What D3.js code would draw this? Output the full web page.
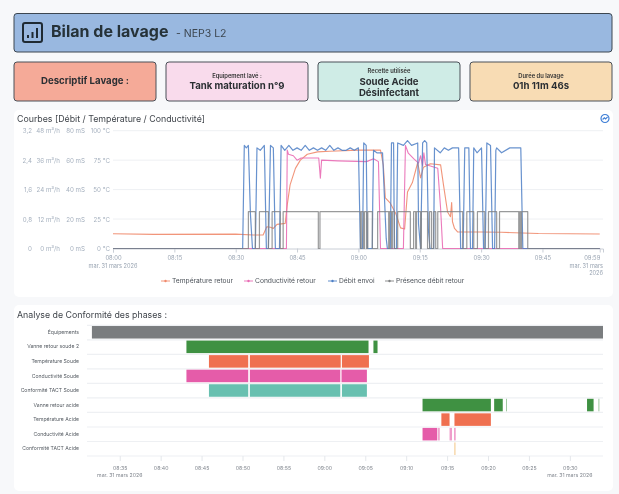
<!DOCTYPE html>
<html>
<head>
<meta charset="utf-8">
<script src="https://cdn.jsdelivr.net/npm/d3@7"></script>
<style>
  html, body { margin: 0; padding: 0; background: #f7f8fa; }
  svg { display: block; font-family: Inter, "Noto Sans", sans-serif; filter: blur(0.3px); }
  .tick text { font-family: Inter, "Noto Sans", sans-serif; }
</style>
</head>
<body>
<script>
const width = 619, height = 494;

// header
const titleText = 'Bilan de lavage';
const subtitleText = '- NEP3 L2';
const cardLabels = ['', 'Equipement lavé :', 'Recette utilisée', 'Durée du lavage'];
const cardValues = [['Descriptif Lavage :'], ['Tank maturation n°9'], ['Soude Acide', 'Désinfectant'], ['01h 11m 46s']];
const cardColors = ['#f5aa98', '#f9dbec', '#cfece6', '#f8dcb4'];

// top chart: times are minutes after 08:00
const flowTicks = [0, 12, 24, 36, 48];
const pressureTicks = [0, 0.8, 1.6, 2.4, 3.2];
const condTicks = [0, 20, 40, 60, 80];
const tempTicks = [0, 25, 50, 75, 100];
const timeTicks = [0, 15, 30, 45, 60, 75, 90, 105, 119];

const tempT = [0, 10, 30, 34.3, 36.7, 37.6, 38.5, 39.2, 40.1, 42.1, 42.6, 43.3, 44.6, 45.8, 47.5, 50, 53, 60, 65.4, 66.1, 66.6, 67.8, 69.1, 70.3, 71.3, 72, 73.2, 74.5, 75.2, 75.9, 77.6, 80.1, 80.8, 81.8, 82.5, 82.8, 83, 83.5, 84.3, 90, 95, 104, 119];
const tempV = [12.5, 12, 12.2, 11.5, 11.5, 18.5, 18, 17, 20.5, 21.3, 37, 54, 68, 75, 80, 82, 82.6, 83.5, 83.5, 71, 43, 38.5, 30, 17.5, 16.5, 48, 56, 73, 60, 69, 72, 71, 54, 31, 27, 39, 22.7, 17, 14, 14, 13.8, 12.7, 12.3];

const condT = [0, 42.4, 42.6, 42.9, 44.1, 45, 46, 50.3, 50.7, 51, 55, 62, 63.7, 64.9, 65.4, 71, 71.5, 72.2, 73.5, 74.7, 75.2, 75.7, 76, 76.4, 78.4, 79.4, 80.1, 80.6, 119];
const condV = [0, 0, 66.8, 64, 63, 60, 61.5, 61.5, 47.8, 60, 59.5, 59, 61, 59, 0, 0, 70, 64.7, 61, 58, 63, 56, 65, 57, 55.4, 54.5, 27, 0, 0];

const flowT = [0, 31.7, 32.1, 32.6, 33.1, 33.6, 34.1, 34.8, 35.2, 36, 37, 37.5, 38, 38.5, 39.2, 39.7, 40.7, 41.1, 42, 43, 44, 45, 46, 47, 48, 49, 50, 51, 52, 53, 54, 55, 56, 57, 58, 59, 60, 60.5, 61, 61.3, 61.9, 62.2, 63.4, 63.5, 63.7, 64.5, 65.9, 66.8, 67.1, 67.8, 68.1, 68.6, 68.8, 69.3, 69.6, 71, 72, 73, 74.5, 74.7, 75.2, 75.7, 76.2, 76.7, 77.1, 77.5, 78.4, 78.6, 80, 81, 82, 83, 84.5, 85, 85.6, 86, 87, 87.4, 87.9, 88.2, 89, 90.1, 90.6, 91, 91.4, 92.3, 92.8, 93.3, 93.6, 93.8, 95, 97, 99.7, 100.2, 119];
const flowV = [0, 0, 42, 41, 42, 14, 0, 0, 41, 40, 42, 0, 0, 42, 41, 0, 0, 42, 40, 42, 40, 41, 40, 42, 40, 41, 40, 41, 40, 42, 40, 41, 40, 40, 41, 40, 41, 0, 0, 43, 42, 0, 0, 18, 40, 39, 39, 4, 0, 0, 43, 43, 0, 0, 43, 42, 44, 42, 43, 10, 0, 43, 44, 43, 8, 0, 0, 41, 39, 41, 40, 41, 41, 0, 0, 41, 41, 0, 0, 41, 39, 41, 0, 0, 43, 42, 0, 0, 40, 41, 39, 41, 41, 0, 0];

const presenceOn = [33.1, 35.8, 38.9, 41.6, 50.6, 60.7, 61.5, 62.3, 64.7, 67.6, 68.3, 69.6, 73.5, 74.2, 75.4, 77.4, 78.4, 79.4, 86.5, 89.1, 91.8, 94.5, 99.4, 99.9];
const presenceOff = [34.8, 38, 40.9, 50.2, 60.5, 61.2, 62, 63.4, 67.4, 68.1, 68.8, 72.7, 74, 75.2, 76.9, 77.9, 78.9, 85.5, 88.2, 90.9, 93.8, 99.2, 99.7, 101.4];

const legendNames = ['Température retour', 'Conductivité retour', 'Débit envoi', 'Présence débit retour'];
const lineColors = ['#f08a6c', '#e96bb4', '#4d7fc6', '#7f8182'];

// phases chart: times are minutes after 08:00
const phaseNames = ['Équipements', 'Vanne retour soude 2', 'Température Soude', 'Conductivité Soude', 'Conformité TACT Soude', 'Vanne retour acide', 'Température Acide', 'Conductivité Acide', 'Conformité TACT Acide'];
const phaseColors = ['#7a7d7f', '#3f9142', '#ef7050', '#e55ca9', '#68c0b0', '#3f9142', '#ef7050', '#e55ca9', '#f8dcb4'];
const phaseStart = [[31.6], [43.15, 66], [45.9, 50.9, 62.15], [43.15, 50.9, 62.1], [45.9, 50.9, 62.15], [72, 80.76, 82.2, 92.1, 93.5], [74.3, 75.9], [72, 73.9, 75.3, 75.85], [75.85]];
const phaseEnd = [[94.05], [65.4, 66.5], [50.7, 62, 65.45], [50.7, 61.95, 65.2], [50.7, 61.95, 65.2], [80.36, 81.8, 82.3, 92.9, 93.6], [75.3, 80.36], [73.8, 74.1, 75.6, 76.05], [76.05]];
const phaseTicks = [35, 40, 45, 50, 55, 60, 65, 70, 75, 80, 85, 90];

const at = m => new Date(2026, 2, 31, 8, 0, m * 60);
const hm = d3.timeFormat('%H:%M');
const dateLabel = 'mar. 31 mars 2026';

const svg = d3.select('body').append('svg').attr('width', width).attr('height', height);

function panel(x, y, w, h, fill, stroke, r) {
    svg.append('rect').attr('x', x).attr('y', y).attr('width', w).attr('height', h)
        .attr('rx', r).attr('fill', fill).attr('stroke', stroke).attr('stroke-width', stroke === 'none' ? 0 : 1);
}

function renderHeader() {
    panel(14, 13.5, 598, 38.5, '#99b8e0', '#3c4650', 3);

    const icon = svg.append('g').attr('transform', 'translate(23,23)')
        .attr('fill', 'none').attr('stroke', '#1f2a33').attr('stroke-width', 2);
    icon.append('rect').attr('width', 19).attr('height', 19).attr('rx', 2);
    [[5, 12, 15], [9.5, 9, 15], [14, 5, 15]].forEach(b => {
        icon.append('line').attr('x1', b[0]).attr('x2', b[0]).attr('y1', b[1]).attr('y2', b[2]);
    });

    svg.append('text').attr('x', 51).attr('y', 37).attr('font-size', 16).attr('font-weight', 700)
        .attr('fill', '#263238').text(titleText);
    svg.append('text').attr('x', 176).attr('y', 37).attr('font-size', 10.5).attr('fill', '#3c4650').text(subtitleText);

    cardValues.forEach((lines, i) => {
        const x = 14 + i * 152;
        panel(x, 62, 142, 39, cardColors[i], '#4a5058', 3);
        const cx = x + 71;
        const y0 = i === 0 ? 84 : 89;
        if (cardLabels[i]) {
            svg.append('text').attr('x', cx).attr('y', lines.length === 2 ? 72.5 : 77.5).attr('text-anchor', 'middle')
                .attr('font-size', 5.8).attr('font-weight', 600).attr('fill', '#333').text(cardLabels[i]);
        }
        lines.forEach((s, j) => {
            svg.append('text').attr('x', cx).attr('y', (lines.length === 2 ? 84.5 : y0) + j * 11)
                .attr('text-anchor', 'middle').attr('font-size', 9.6).attr('font-weight', 700)
                .attr('fill', '#2b2f33').text(s);
        });
    });
}

function renderCurves() {
    panel(14, 110, 599, 187, '#ffffff', 'none', 5);
    svg.append('text').attr('x', 17).attr('y', 122).attr('font-size', 8.8).attr('fill', '#3f444a')
        .text('Courbes [Débit / Température / Conductivité]');

    // refresh badge
    const badge = svg.append('g').attr('transform', 'translate(605,118.5)').attr('fill', 'none').attr('stroke', '#3f7fd6').attr('stroke-width', 1.2);
    badge.append('circle').attr('r', 4);
    badge.append('path').attr('d', d3.line()([[-2.4, 1], [-0.6, -0.6], [0.6, 0.4], [2.6, -1.6]]));

    const x = d3.scaleTime().domain([at(0), at(119.8)]).range([113, 603]);
    const yTemp = d3.scaleLinear().domain([0, 100]).range([248.5, 130.7]);
    const yFlow = d3.scaleLinear().domain([0, 48]).range([248.5, 130.7]);
    const yCond = d3.scaleLinear().domain([0, 80]).range([248.5, 130.7]);
    const yPres = d3.scaleLinear().domain([0, 3.2]).range([248.5, 130.7]);

    const leftAxis = (scale, ticks, fmt, xPos) => {
        const g = svg.append('g').attr('transform', `translate(${xPos},0)`)
            .call(d3.axisLeft(scale).tickValues(ticks).tickSize(0).tickPadding(0).tickFormat(fmt));
        g.select('.domain').remove();
        g.selectAll('text').attr('font-size', 6.2).attr('fill', '#a6b1bf');
    };
    leftAxis(yPres, pressureTicks, d => String(d).replace('.', ','), 32);
    leftAxis(yFlow, flowTicks, d => d + ' m³/h', 60);
    leftAxis(yCond, condTicks, d => d + ' mS', 85);
    leftAxis(yTemp, tempTicks, d => d + ' °C', 110);

    svg.append('g').selectAll('line').data(tempTicks.slice(1)).join('line')
        .attr('x1', 113).attr('x2', 603).attr('y1', yTemp).attr('y2', yTemp)
        .attr('stroke', '#eef0f3').attr('stroke-width', 1);

    const xAxis = svg.append('g').attr('transform', 'translate(0,248.5)')
        .call(d3.axisBottom(x).tickValues(timeTicks.map(at)).tickSize(4).tickPadding(3).tickFormat(hm));
    xAxis.select('.domain').attr('stroke', '#c9ced6');
    xAxis.selectAll('line').attr('stroke', '#c9ced6');
    xAxis.selectAll('text').attr('font-size', 5.8).attr('fill', '#98a3b1');
    xAxis.selectAll('.tick:last-of-type text').attr('text-anchor', 'end');

    svg.append('text').attr('x', 113).attr('y', 268).attr('text-anchor', 'middle').attr('font-size', 5.6).attr('fill', '#98a3b1').text(dateLabel);
    svg.append('text').attr('x', 603).attr('y', 268).attr('text-anchor', 'end').attr('font-size', 5.6).attr('fill', '#98a3b1').text('mar. 31 mars');
    svg.append('text').attr('x', 603).attr('y', 274.5).attr('text-anchor', 'end').attr('font-size', 5.6).attr('fill', '#98a3b1').text('2026');

    const draw = (pts, y, color, w, op) => {
        svg.append('path').attr('d', d3.line().x(p => x(at(p[0]))).y(p => y(p[1]))(pts))
            .attr('fill', 'none').attr('stroke', color).attr('stroke-width', w).attr('opacity', op)
            .attr('stroke-linejoin', 'round');
    };

    const presencePts = [[0, 0]];
    presenceOn.forEach((t, i) => {
        presencePts.push([t, 0], [t, 1], [presenceOff[i], 1], [presenceOff[i], 0]);
    });
    presencePts.push([119, 0]);

    draw(tempT.map((t, i) => [t, tempV[i]]), yTemp, lineColors[0], 1.1, 0.9);
    draw(condT.map((t, i) => [t, condV[i]]), yCond, lineColors[1], 1.1, 0.9);
    draw(flowT.map((t, i) => [t, flowV[i]]), yFlow, lineColors[2], 1.2, 0.85);
    draw(presencePts, yPres, lineColors[3], 1.2, 0.8);

    // legend
    const legendX = [161, 244, 328, 385];
    legendNames.forEach((name, i) => {
        const g = svg.append('g').attr('transform', `translate(${legendX[i]},281)`);
        g.append('line').attr('x1', 0).attr('x2', 9).attr('stroke', lineColors[i]).attr('stroke-width', 1.6).attr('opacity', 0.55);
        g.append('circle').attr('cx', 4.5).attr('r', 1.2).attr('fill', lineColors[i]);
        g.append('text').attr('x', 11).attr('y', 2.4).attr('font-size', 6.7).attr('fill', '#4b5158').text(name);
    });
}

function renderPhases() {
    panel(14, 305, 599, 186, '#ffffff', 'none', 5);
    svg.append('text').attr('x', 17).attr('y', 317.5).attr('font-size', 8.8).attr('fill', '#3f444a')
        .text('Analyse de Conformité des phases :');

    const x = d3.scaleTime().domain([at(31), at(94.05)]).range([87, 603]);
    const y = d3.scaleBand().domain(phaseNames).range([325, 456]).paddingInner(0.14).paddingOuter(0.07);

    svg.append('g').selectAll('line').data(d3.range(phaseNames.length + 1)).join('line')
        .attr('x1', 87).attr('x2', 603)
        .attr('y1', i => 325.4 + i * (456 - 325.4) / phaseNames.length)
        .attr('y2', i => 325.4 + i * (456 - 325.4) / phaseNames.length)
        .attr('stroke', '#eef0f3').attr('stroke-width', 1.2);

    phaseNames.forEach((name, i) => {
        const segs = phaseStart[i].map((s, j) => [s, phaseEnd[i][j]]);
        svg.append('g').selectAll('rect').data(segs).join('rect')
            .attr('x', d => x(at(d[0])))
            .attr('width', d => x(at(d[1])) - x(at(d[0])))
            .attr('y', y(name))
            .attr('height', y.bandwidth())
            .attr('fill', phaseColors[i])
            .attr('opacity', d => (d[1] - d[0] < 0.3 && i !== 8 ? 0.6 : 1));
    });

    const rows = svg.append('g').attr('transform', 'translate(79,0)')
        .call(d3.axisLeft(y).tickSize(0).tickPadding(0));
    rows.select('.domain').remove();
    rows.selectAll('text').attr('font-size', 5.1).attr('fill', '#555b62');

    const xAxis = svg.append('g').attr('transform', 'translate(0,456)')
        .call(d3.axisBottom(x).tickValues(phaseTicks.map(at)).tickSize(5).tickPadding(5).tickFormat(hm));
    xAxis.select('.domain').remove();
    xAxis.selectAll('line').attr('stroke', '#e4e7eb');
    xAxis.selectAll('text').attr('font-size', 5.2).attr('fill', '#80868e');

    [35, 90].forEach(m => {
        svg.append('text').attr('x', x(at(m))).attr('y', 477).attr('text-anchor', 'middle')
            .attr('font-size', 5.2).attr('fill', '#80868e').text(dateLabel);
    });
}

renderHeader();
renderCurves();
renderPhases();
</script>
</body>
</html>
